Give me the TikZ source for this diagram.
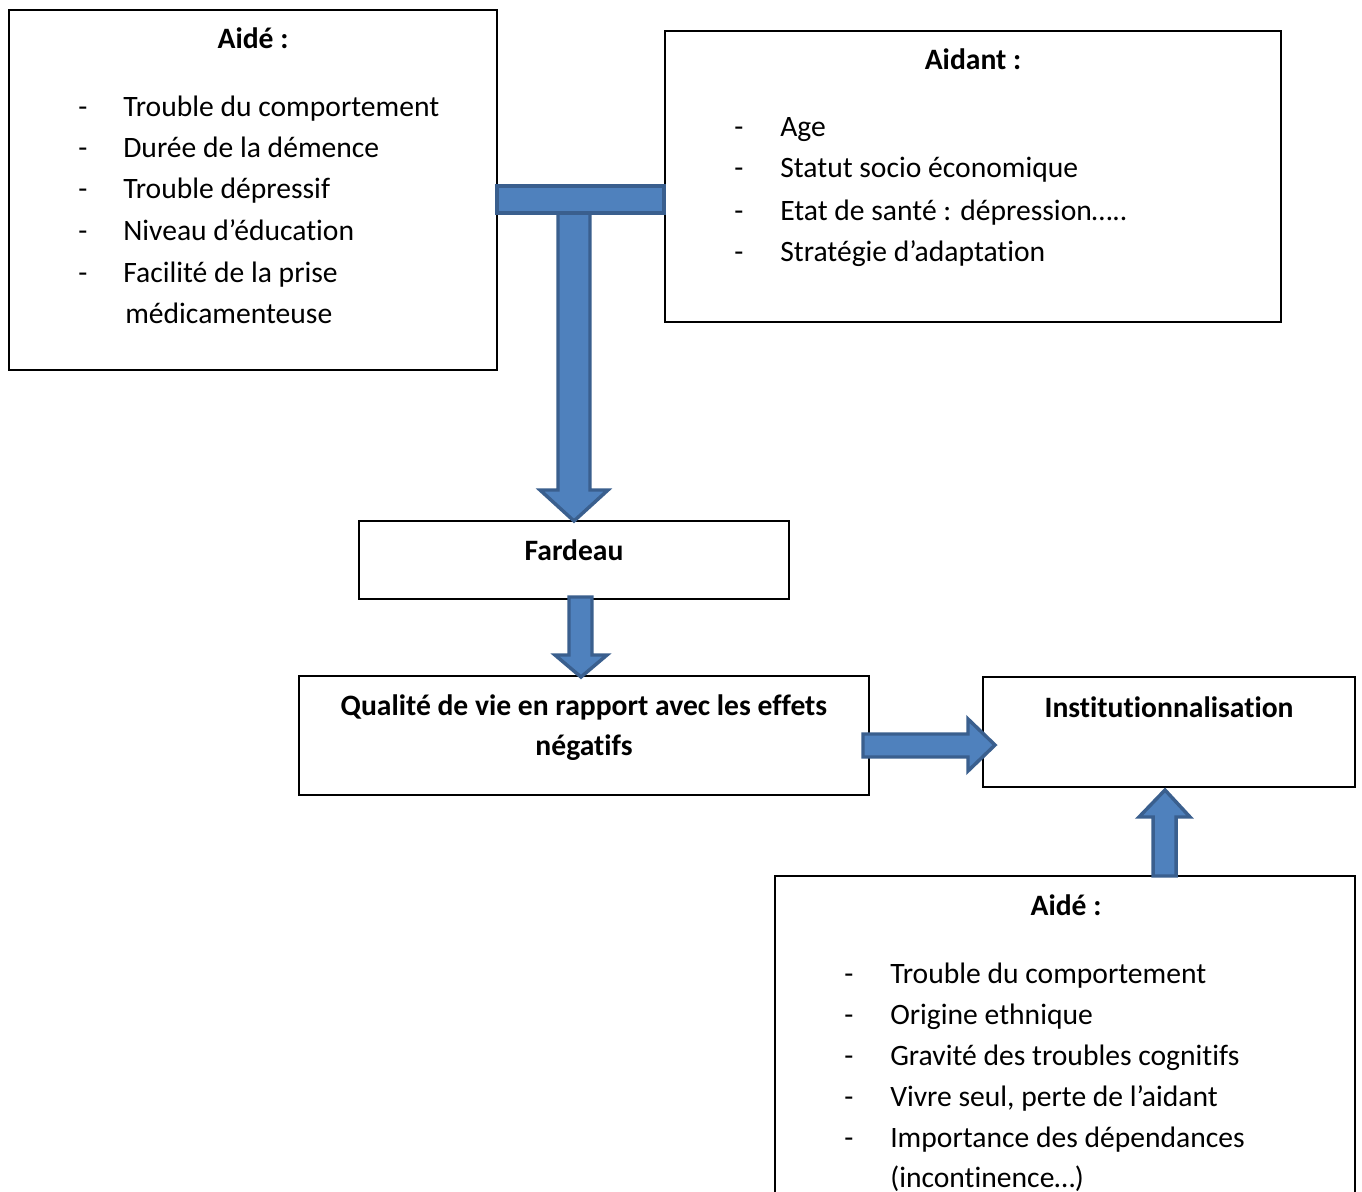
\documentclass[tikz,border=0pt]{standalone}
\usepackage{fontspec}
\setmainfont[Ligatures=NoCommon]{Carlito}
\definecolor{afill}{HTML}{4F81BD}
\definecolor{aline}{HTML}{3A5F8E}
\begin{document}
\begin{tikzpicture}[x=0.75pt,y=-0.75pt,
  box/.style={draw=black,line width=0.8pt,fill=white},
  txt/.style={anchor=base west,inner sep=0pt,font=\fontsize{22.2}{26}\selectfont},
  head/.style={anchor=base,inner sep=0pt,font=\fontsize{22.2}{26}\selectfont\bfseries},
  blk/.style={fill=afill,draw=aline,line width=2.6pt,line join=miter}]
\useasboundingbox (0,0) rectangle (1362,1191);
\clip (0,0) rectangle (1362,1191);
% boxes
\draw[box] (9,10) rectangle (497,370);
\draw[box] (665,31) rectangle (1281,322);
\draw[box] (359,521) rectangle (789,599);
\draw[box] (299,676) rectangle (869,795);
\draw[box] (983,677) rectangle (1355,787);
\draw[box] (775,876) rectangle (1355,1220);
% box 1
\node[head] (h1) at (253,49) {Aidé :};
\foreach \y/\t in {117/Trouble du comportement,158/Durée de la démence,199/Trouble dépressif,241/Niveau d’éducation,282/Facilité de la prise}{
  \node[txt] at (78,\y) {-};
  \node[txt] at (123,\y) {\t};
}
\node[txt] (m1) at (125,323) {médicamenteuse};
% box 2
\node[head] (h2) at (973,70) {Aidant :};
\foreach \y/\t in {137/Age,178/Statut socio économique,220/Etat de santé : dépression…..,261/Stratégie d’adaptation}{
  \node[txt] at (734,\y) {-};
  \node[txt] at (780,\y) {\t};
}
% fardeau
\node[head] (f) at (574,560) {Fardeau};
% qualite
\node[head] (q1) at (584,715) {Qualité de vie en rapport avec les effets};
\node[head] (q2) at (584,755) {négatifs};
% institution
\node[head] (i) at (1169,717) {Institutionnalisation};
% bottom box
\node[head] (h3) at (1066,915) {Aidé :};
\foreach \y/\t in {983/Trouble du comportement,1024/Origine ethnique,1065/Gravité des troubles cognitifs,1106/{Vivre seul, perte de l’aidant},1147/Importance des dépendances}{
  \node[txt] at (844,\y) {-};
  \node[txt] at (890,\y) {\t};
}
\node[txt] (m3) at (890,1187) {(incontinence…)};
% block arrows
\draw[blk] (558,212) -- (590,212) -- (590,490) -- (608,490) -- (574,521) -- (540,490) -- (558,490) -- cycle;
\draw[blk] (497,186) rectangle (664,213);
\draw[blk] (569,597) -- (592,597) -- (592,655) -- (607,655) -- (581,677) -- (555,655) -- (569,655) -- cycle;
\draw[blk] (863,734) -- (968,734) -- (968,719) -- (995,745) -- (968,771) -- (968,757) -- (863,757) -- cycle;
\draw[blk] (1153,876) -- (1153,817) -- (1139,817) -- (1165,790) -- (1190,817) -- (1176,817) -- (1176,876) -- cycle;
\end{tikzpicture}
\end{document}
